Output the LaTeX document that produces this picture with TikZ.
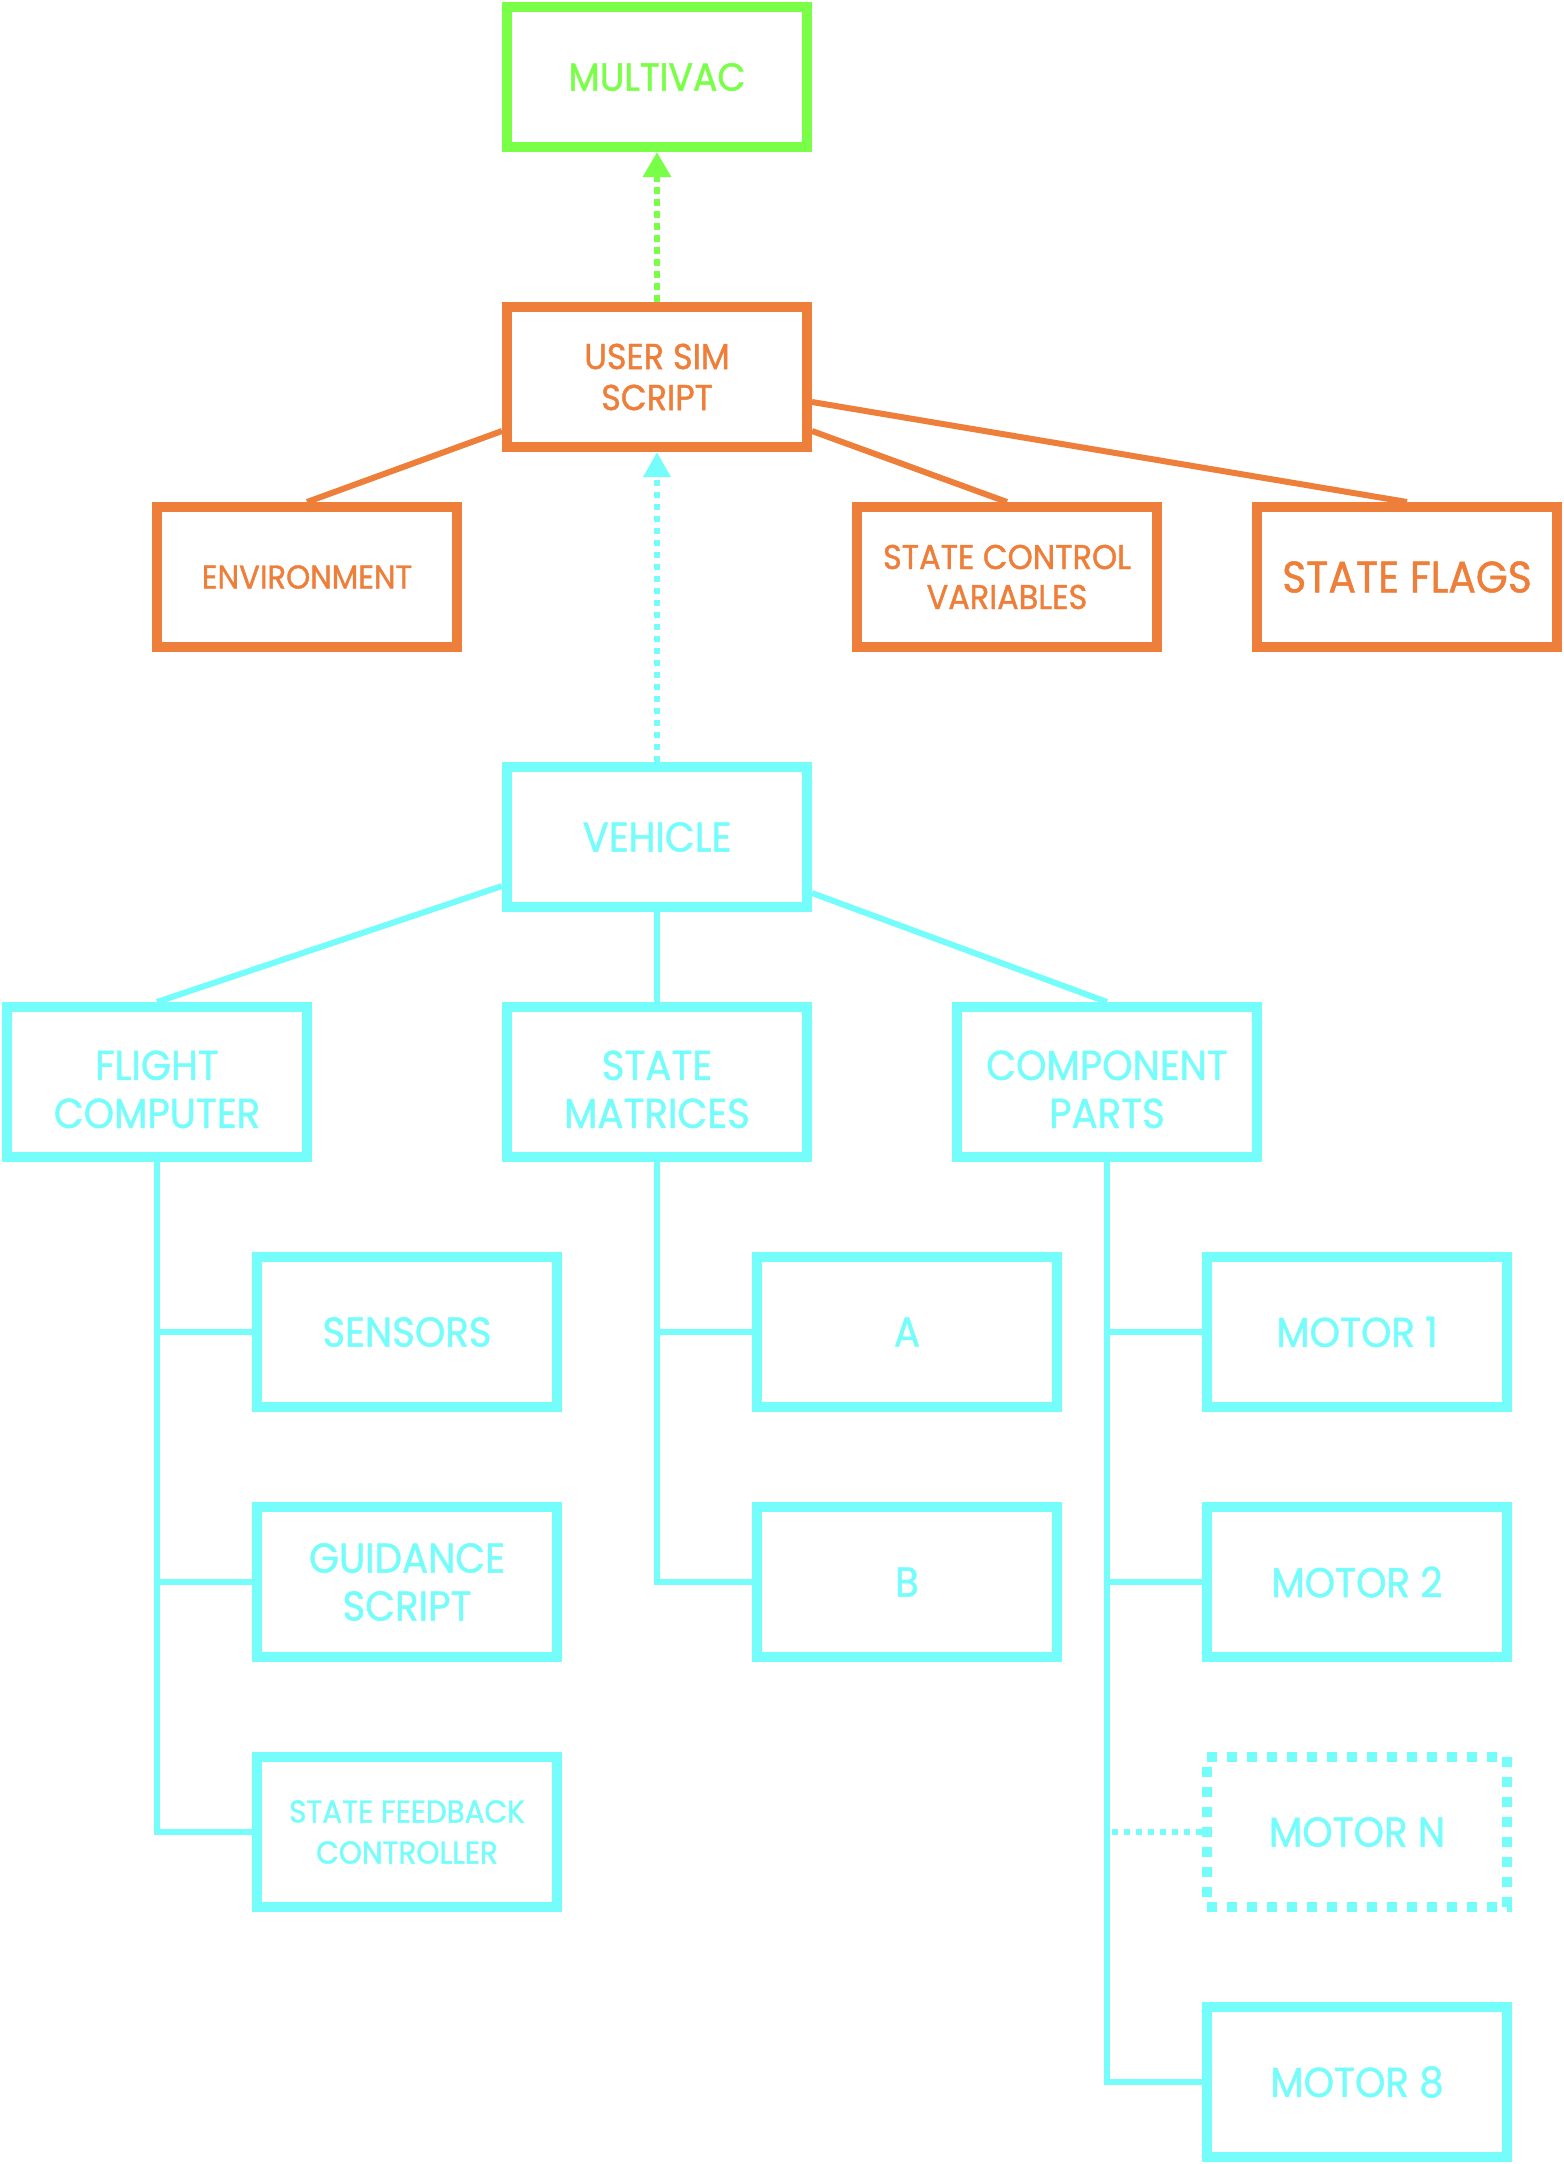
\documentclass[tikz,border=0pt]{standalone}
\usepackage{fontspec}
\newfontfamily\dfont{Poppins}[FakeStretch=0.93,FakeBold=1.2]
\usetikzlibrary{arrows.meta,calc}
\definecolor{mvgreen}{RGB}{122,255,72}
\definecolor{simorange}{RGB}{237,127,58}
\definecolor{vehcyan}{RGB}{117,253,252}
\newcommand\fsz[2]{\fontsize{#1}{#2}\selectfont}
\newcommand\toppad{\rule{0pt}{22pt}}

\begin{document}
\begin{tikzpicture}[x=0.5pt,y=-0.5pt,
  box/.style={draw, line width=5pt, minimum width=150pt, minimum height=70pt,
    align=center, inner sep=0pt, font={\dfont\fsz{20.8pt}{24pt}}},
  tall/.style={minimum height=75pt},
  greenbox/.style={box, draw=mvgreen, text=mvgreen},
  orangebox/.style={box, draw=simorange, text=simorange},
  cyanbox/.style={box, draw=vehcyan, text=vehcyan},
  dotbox/.style={cyanbox, dash pattern=on 5pt off 5pt},
  orangelink/.style={draw=simorange, line width=3pt},
  cyanlink/.style={draw=vehcyan, line width=3pt},
  cyandots/.style={draw=vehcyan, line width=3pt, dash pattern=on 3pt off 3pt},
  greenarrow/.style={draw=mvgreen, line width=3.3pt, dash pattern=on 3.5pt off 2.5pt,
    -{Triangle[length=12.5pt,width=13.5pt]}},
  cyanarrow/.style={draw=vehcyan, line width=3.3pt, dash pattern=on 3pt off 3pt,
    -{Triangle[length=12.5pt,width=13pt]}},
]
\useasboundingbox (0,0) rectangle (1564,2164);

% top levels
\node[greenbox, font={\dfont\fsz{19.5pt}{24pt}}] (mv) at (657,77) {MULTIVAC};
\node[orangebox, font={\dfont\fsz{18pt}{20.5pt}}] (us) at (657,377) {USER SIM\\SCRIPT};
\node[orangebox, font={\dfont\fsz{16.5pt}{20pt}}] (env) at (307,577) {ENVIRONMENT};
\node[orangebox, font={\dfont\fsz{17.2pt}{20pt}}] (scv) at (1007,577) {STATE CONTROL\\VARIABLES};
\node[orangebox, font={\dfont\fsz{22pt}{24pt}}] (sf) at (1407,577) {STATE FLAGS};

% vehicle tree
\node[cyanbox] (veh) at (657,837) {VEHICLE};
\node[cyanbox, tall] (fc) at (157,1082) {\toppad FLIGHT\\COMPUTER};
\node[cyanbox, tall] (sm) at (657,1082) {\toppad STATE\\MATRICES};
\node[cyanbox, tall] (cp) at (1107,1082) {\toppad COMPONENT\\PARTS};

\node[cyanbox, tall] (sen) at (407,1332) {SENSORS};
\node[cyanbox, tall] (gs) at (407,1582) {GUIDANCE\\SCRIPT};
\node[cyanbox, tall, font={\dfont\fsz{15.8pt}{20.5pt}}] (sfc) at (407,1832) {STATE FEEDBACK\\CONTROLLER};

\node[cyanbox, tall] (ma) at (907,1332) {A};
\node[cyanbox, tall] (mb) at (907,1582) {B};

\node[cyanbox, tall] (m1) at (1357,1332) {MOTOR 1};
\node[cyanbox, tall] (m2) at (1357,1582) {MOTOR 2};
\node[dotbox, tall] (mn) at (1357,1832) {MOTOR N};
\node[cyanbox, tall] (m8) at (1357,2082) {MOTOR 8};

% connectors
\draw[greenarrow] (us.north) -- (mv.south);
\draw[cyanarrow] (veh.north) -- (us.south);

\draw[orangelink] ($(us.west)+(0,54)$) -- (env.north);
\draw[orangelink] ($(us.east)+(0,54)$) -- (scv.north);
\draw[orangelink] ($(us.east)+(0,25)$) -- (sf.north);

\draw[cyanlink] ($(veh.west)+(0,49)$) -- (fc.north);
\draw[cyanlink] (veh.south) -- (sm.north);
\draw[cyanlink] ($(veh.east)+(0,56)$) -- (cp.north);

\draw[cyanlink] (fc.south) |- (sen.west);
\draw[cyanlink] (fc.south) |- (gs.west);
\draw[cyanlink] (fc.south) |- (sfc.west);

\draw[cyanlink] (sm.south) |- (ma.west);
\draw[cyanlink] (sm.south) |- (mb.west);

\draw[cyanlink] (cp.south) |- (m1.west);
\draw[cyanlink] (cp.south) |- (m2.west);
\draw[cyanlink] (cp.south) |- (m8.west);
\draw[cyandots] ($(cp.south |- mn.west)+(5,0)$) -- (mn.west);
\end{tikzpicture}
\end{document}
